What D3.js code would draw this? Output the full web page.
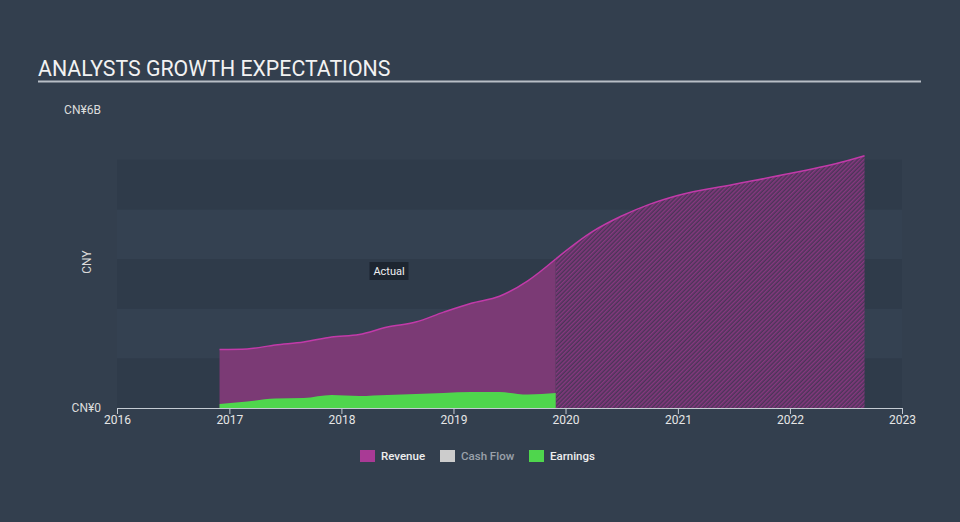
<!DOCTYPE html>
<html><head><meta charset="utf-8">
<script src="https://cdn.jsdelivr.net/npm/d3@7"></script>
<style>
html,body{margin:0;padding:0;background:#333f4e;}
svg{display:block;font-family:Roboto, "Open Sans", sans-serif;}
</style></head>
<body>
<svg id="chart" width="960" height="522"></svg>
<script>
// ---- data ----
const actualDates = ["2016-11-30","2017-02-28","2017-05-31","2017-08-31","2017-11-30","2018-02-28","2018-05-31","2018-08-31","2018-11-30","2019-02-28","2019-05-31","2019-08-31","2019-11-30"];
const revenueActual = [1.18,1.19,1.27,1.33,1.43,1.48,1.63,1.73,1.93,2.11,2.25,2.56,3.00];
const earningsActual = [0.08,0.13,0.19,0.20,0.26,0.24,0.26,0.28,0.30,0.32,0.32,0.27,0.30];
const forecastDates = ["2019-11-30","2020-03-31","2020-06-30","2020-09-30","2020-12-31","2021-06-30","2021-12-31","2022-06-30","2022-09-01"];
const revenueForecast = [3.00,3.56,3.86,4.10,4.28,4.50,4.72,4.97,5.08];
const xTickYears = [2016,2017,2018,2019,2020,2021,2022,2023];
const yBands = [0,1,2,3,4];
const legendItems = ["Revenue","Cash Flow","Earnings"];
const legendColors = ["#a93a95","#cccccc","#4fd64d"];

const parse = d3.timeParse("%Y-%m-%d");
const svg = d3.select("#chart");
const W = 960, H = 522;
svg.append("rect").attr("width",W).attr("height",H).attr("fill","#333f4e");

const x = d3.scaleTime().domain([new Date(2016,0,1), new Date(2023,0,1)]).range([117, 902]);
const y = d3.scaleLinear().domain([0,6]).range([408,110]);

// title
svg.append("text").attr("x",38).attr("y",76).attr("fill","#f2f2f2")
  .attr("font-size",21.3).text("ANALYSTS GROWTH EXPECTATIONS");
svg.append("line").attr("x1",38).attr("x2",921).attr("y1",81.5).attr("y2",81.5)
  .attr("stroke","#b8bec6").attr("stroke-width",2);

// bands
svg.append("g").selectAll("rect").data(yBands).join("rect")
  .attr("x",117).attr("width",902-117)
  .attr("y",d=>y(d+1)).attr("height",d=>y(d)-y(d+1))
  .attr("fill",d=> d%2===0 ? "#2f3b4a" : "#344151");

// pattern
const defs = svg.append("defs");
const pat = defs.append("pattern").attr("id","hatch").attr("patternUnits","userSpaceOnUse")
  .attr("width",3).attr("height",3).attr("patternTransform","rotate(45)");
pat.append("rect").attr("width",3).attr("height",3).attr("fill","#4b3558");
pat.append("rect").attr("width",1.5).attr("height",3).attr("fill","#86387f");

const actual = actualDates.map((d,i)=>({date:parse(d), rev:revenueActual[i], earn:earningsActual[i]}));
const fc = forecastDates.map((d,i)=>({date:parse(d), rev:revenueForecast[i]}));

const curve = d3.curveMonotoneX;
// forecast area
svg.append("path").datum(fc)
  .attr("d", d3.area().curve(curve).x(d=>x(d.date)).y0(y(0)).y1(d=>y(d.rev)))
  .attr("fill","url(#hatch)");
svg.append("path").datum(fc)
  .attr("d", d3.line().curve(curve).x(d=>x(d.date)).y(d=>y(d.rev)))
  .attr("fill","none").attr("stroke","#c23aa9").attr("stroke-width",1.5);

// actual revenue
svg.append("path").datum(actual)
  .attr("d", d3.area().curve(curve).x(d=>x(d.date)).y0(y(0)).y1(d=>y(d.rev)))
  .attr("fill","#7b3a75");
svg.append("path").datum(actual)
  .attr("d", d3.line().curve(curve).x(d=>x(d.date)).y(d=>y(d.rev)))
  .attr("fill","none").attr("stroke","#c23aa9").attr("stroke-width",1.5);

// earnings
svg.append("path").datum(actual)
  .attr("d", d3.area().curve(curve).x(d=>x(d.date)).y0(y(0)).y1(d=>y(d.earn)))
  .attr("fill","#4fd64d");

// x axis
const xAxis = d3.axisBottom(x)
  .tickValues(xTickYears.map(yr=>new Date(yr,0,1)))
  .tickFormat(d3.timeFormat("%Y")).tickSize(6).tickSizeOuter(0);
const gx = svg.append("g").attr("transform","translate(0,408)").call(xAxis);
gx.select(".domain").attr("stroke","#c5cbd3").attr("stroke-width",1.2);
gx.selectAll(".tick line").attr("stroke","#c5cbd3").attr("y1",0).attr("y2",6);
gx.selectAll(".tick text").attr("fill","#e6e6e6").attr("font-size",12).attr("dy","0.55em")
  .attr("font-family","Roboto, sans-serif");

// y labels
svg.append("text").attr("x",101).attr("y",y(6)).attr("dy","0.35em").attr("text-anchor","end")
  .attr("fill","#dcdcdc").attr("font-size",12).text("CN¥6B");
svg.append("text").attr("x",101).attr("y",y(0)).attr("dy","0.35em").attr("text-anchor","end")
  .attr("fill","#dcdcdc").attr("font-size",12).text("CN¥0");
svg.append("text").attr("transform","translate(91,262) rotate(-90)").attr("text-anchor","middle")
  .attr("fill","#dcdcdc").attr("font-size",12).text("CNY");

// Actual label
const ag = svg.append("g").attr("transform","translate(389,271)");
ag.append("rect").attr("x",-19.5).attr("y",-9).attr("width",39).attr("height",18).attr("fill","#1d2530");
ag.append("text").attr("text-anchor","middle").attr("dy","0.35em").attr("fill","#f0f0f0")
  .attr("font-size",11).text("Actual");

// legend
const lx = [360, 440, 529];
const lg = svg.append("g").selectAll("g").data(legendItems).join("g")
  .attr("transform",(d,i)=>`translate(${lx[i]},450)`);
lg.append("rect").attr("width",15).attr("height",12).attr("fill",(d,i)=>legendColors[i]);
lg.append("text").attr("x",21).attr("y",6).attr("dy","0.35em").attr("font-size",11.5)
  .attr("font-weight",500)
  .attr("fill",(d,i)=> i===1 ? "#9aa1aa" : "#eeeeee").text(d=>d);
</script>
</body></html>
